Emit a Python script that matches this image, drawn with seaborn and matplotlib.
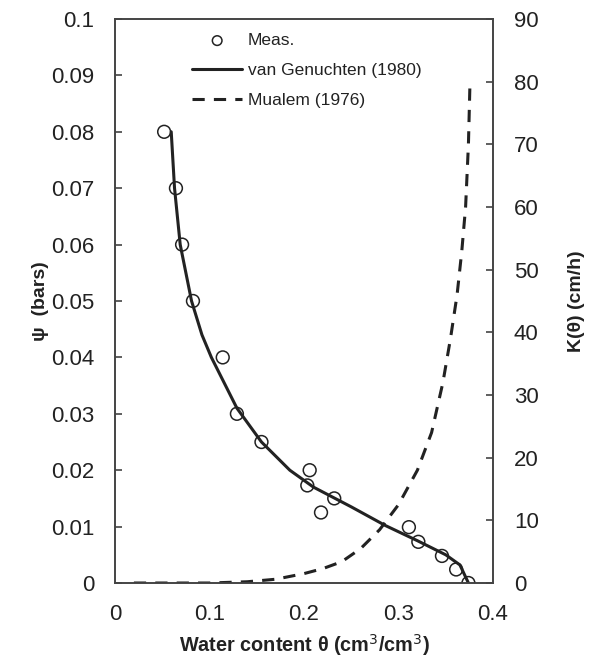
import matplotlib
matplotlib.use("Agg")
import matplotlib.pyplot as plt
import seaborn as sns
import pandas as pd

# Measured data (theta, psi)
meas_theta = [0.052, 0.0645, 0.071, 0.0825, 0.114, 0.129, 0.155, 0.206, 0.2035, 0.232, 0.218, 0.311, 0.321, 0.346, 0.361, 0.374]
meas_psi = [0.080, 0.070, 0.060, 0.050, 0.040, 0.030, 0.025, 0.020, 0.0173, 0.015, 0.0125, 0.0099, 0.0073, 0.0048, 0.0024, 0.0]

# van Genuchten (1980) fitted curve
vg_theta = [0.0595, 0.063, 0.069, 0.081, 0.092, 0.102, 0.114, 0.129, 0.155, 0.185, 0.21, 0.25, 0.286, 0.32, 0.35, 0.365, 0.374]
vg_psi = [0.080, 0.070, 0.060, 0.050, 0.044, 0.040, 0.036, 0.031, 0.025, 0.020, 0.017, 0.0135, 0.0102, 0.0075, 0.0050, 0.0032, 0.0]

# Mualem (1976) conductivity curve (right axis)
mu_theta = [0.02, 0.10, 0.14, 0.17, 0.20, 0.22, 0.24, 0.26, 0.28, 0.30, 0.32, 0.335, 0.347, 0.355, 0.362, 0.367, 0.371, 0.374, 0.3755]
mu_k = [0, 0, 0.2, 0.6, 1.5, 2.3, 3.4, 5.5, 8.5, 12.5, 18, 24, 32, 39, 46, 53, 60, 70, 79]

x_ticks = [0, 0.1, 0.2, 0.3, 0.4]
x_ticklabels = ["0", "0.1", "0.2", "0.3", "0.4"]
y_ticks = [0, 0.01, 0.02, 0.03, 0.04, 0.05, 0.06, 0.07, 0.08, 0.09, 0.1]
y_ticklabels = ["0", "0.01", "0.02", "0.03", "0.04", "0.05", "0.06", "0.07", "0.08", "0.09", "0.1"]
k_ticks = [0, 10, 20, 30, 40, 50, 60, 70, 80, 90]

sns.set_style("white")
plt.rcParams['font.family'] = ['Liberation Sans', 'DejaVu Sans']
ink = '#222222'
spine_c = '#444444'

fig = plt.figure(figsize=(5.94, 6.61), dpi=100)
ax = fig.add_axes([115/594, 1-583/661, (493-115)/594, (583-19)/661])
ax2 = ax.twinx()

df_meas = pd.DataFrame({"theta": meas_theta, "psi": meas_psi})
df_vg = pd.DataFrame({"theta": vg_theta, "psi": vg_psi})
df_mu = pd.DataFrame({"theta": mu_theta, "K": mu_k})

sns.lineplot(data=df_vg, x="theta", y="psi", ax=ax, color=ink, lw=2.2, sort=False,
             estimator=None, label="van Genuchten (1980)", legend=False)
sns.scatterplot(data=df_meas, x="theta", y="psi", ax=ax, marker='o', s=85,
                facecolor='none', edgecolor=ink, linewidth=1.1, label="Meas.", legend=False, zorder=3)
sns.lineplot(data=df_mu, x="theta", y="K", ax=ax2, color=ink, lw=2.2, sort=False,
             estimator=None, linestyle=(0, (4, 3)), label="Mualem (1976)", legend=False)

ax.set_xlim(0, 0.4)
ax.set_ylim(0, 0.1)
ax2.set_ylim(0, 90)
ax.set_xticks(x_ticks)
ax.set_xticklabels(x_ticklabels)
ax.set_yticks(y_ticks)
ax.set_yticklabels(y_ticklabels)
ax2.set_yticks(k_ticks)

for a in (ax, ax2):
    for s in a.spines.values():
        s.set_color(spine_c)
        s.set_linewidth(1.2)
        s.set_visible(True)
ax.tick_params(axis='both', direction='in', length=5, width=1.2, color=spine_c,
               labelsize=16, labelcolor=ink)
ax.tick_params(axis='y', right=False, pad=15)
ax.tick_params(axis='x', top=False, pad=15)
ax2.tick_params(axis='y', direction='in', length=5, width=1.2, color=spine_c,
                labelsize=16, labelcolor=ink, pad=15)

ax.set_xlabel("Water content θ (cm$^3$/cm$^3$)", fontsize=14.3, fontweight='bold', color=ink, labelpad=5)
ax.set_ylabel("ψ  (bars)", fontsize=14, fontweight='bold', color=ink, labelpad=1)
ax2.set_ylabel("K(θ) (cm/h)", fontsize=14, fontweight='bold', color=ink, labelpad=21)

h1, l1 = ax.get_legend_handles_labels()
h2, l2 = ax2.get_legend_handles_labels()
hd = dict(zip(l1 + l2, h1 + h2))
order = ["Meas.", "van Genuchten (1980)", "Mualem (1976)"]
leg = ax.legend([hd[k] for k in order], order, loc='upper left',
                bbox_to_anchor=(192/594, 1-33/661), bbox_transform=fig.transFigure,
                frameon=False, fontsize=12.5, handlelength=2.9, handletextpad=0.3,
                labelspacing=0.85, borderpad=0, borderaxespad=0, markerscale=0.75)
for t in leg.get_texts():
    t.set_color(ink)

fig.savefig("out.png", dpi=100)
